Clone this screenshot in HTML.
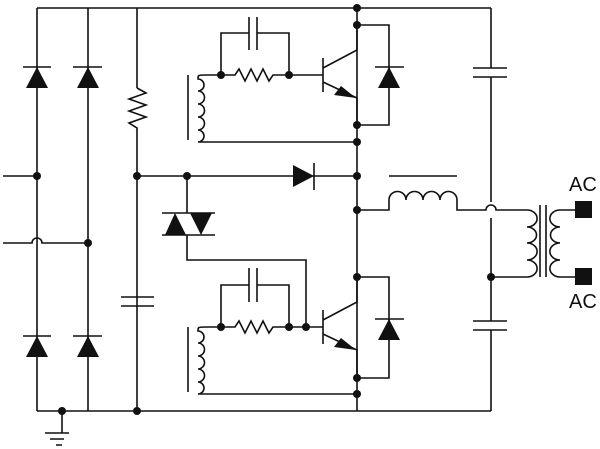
<!DOCTYPE html>
<html><head><meta charset="utf-8"><style>html,body{margin:0;padding:0;background:#fff}svg{display:block}</style></head>
<body>
<svg width="600" height="449" viewBox="0 0 600 449" xmlns="http://www.w3.org/2000/svg">
<g stroke="#111" stroke-width="1.6" fill="none">
<line x1="37" y1="8" x2="491" y2="8"/>
<line x1="37" y1="411" x2="491" y2="411"/>
<line x1="37" y1="8" x2="37" y2="411"/>
<line x1="88" y1="8" x2="88" y2="411"/>
<line x1="137" y1="8" x2="137" y2="88"/>
<polyline points="137,88 146,93 129,99 146,105 129,111 146,117 129,123 137,128 137,411"/>
<line x1="357" y1="8" x2="357" y2="411"/>
<line x1="491" y1="8" x2="491" y2="68"/>
<line x1="491" y1="77" x2="491" y2="202"/>
<path d="M491 218 V321 M491 330 V411"/>
<line x1="3" y1="176" x2="37" y2="176"/>
<path d="M3 243 H32 A5 5 0 0 1 42 243 H88"/>
<path d="M23 67 H51 M73 67 H102 M23 336 H51 M73 336 H102 M375 67 H404 M375 319 H404"/>
<path d="M62 411 V433 M45 433 H69 M50 439 H64 M56 445 H62"/>
<path d="M121 297 H154 M121 306 H154"/>
<path d="M473 68 H507 M473 77 H507 M473 321 H507 M473 330 H507"/>
<line x1="137" y1="176" x2="357" y2="176"/>
<line x1="314" y1="163" x2="314" y2="190"/>
<path d="M187 176 V213 M162 213 H215 M162 235 H215 M187 235 V260 H306 V327"/>
<line x1="188" y1="75" x2="188" y2="140"/>
<path d="M207 75 H235 L239 69 L245 81 L251 69 L257 81 L263 69 L269 81 L273 75 H323"/>
<path d="M207 75 C198 75 198 75 198 79 A4.3 4.3 0 0 1 198 91 A4.3 4.3 0 0 1 198 104 A4.3 4.3 0 0 1 198 117 A4.3 4.3 0 0 1 198 130 A4.3 4.3 0 0 1 198 142 H357"/>
<path d="M221 75 V33 H249 M257 33 H289 V75 M249 17 V50 M257 17 V50"/>
<path d="M323 58 V92 M323 68 L357 50 V25 M323 82 L357 98 V125"/>
<path d="M357 25 H389 V125 H357"/>
<line x1="188" y1="327" x2="188" y2="392"/>
<path d="M207 327 H235 L239 321 L245 333 L251 321 L257 333 L263 321 L269 333 L273 327 H323"/>
<path d="M207 327 C198 327 198 327 198 331 A4.3 4.3 0 0 1 198 343 A4.3 4.3 0 0 1 198 356 A4.3 4.3 0 0 1 198 369 A4.3 4.3 0 0 1 198 382 A4.3 4.3 0 0 1 198 394 H357"/>
<path d="M221 327 V285 H249 M257 285 H289 V327 M249 268 V302 M257 268 V302"/>
<path d="M323 310 V344 M323 320 L357 302 V277 M323 334 L357 350 V378"/>
<path d="M357 277 H389 V378 H357"/>
<path d="M357 210 H389 V200 A8.5 8.5 0 0 1 406 200 A8.5 8.5 0 0 1 423 200 A8.5 8.5 0 0 1 440 200 A8.5 8.5 0 0 1 457 200 V210 H486 A5 5 0 0 1 496 210 H527"/>
<line x1="389" y1="176" x2="457" y2="176"/>
<path d="M527 210 A5 4.2 0 0 1 527 227 A5 4.2 0 0 1 527 243 A5 4.2 0 0 1 527 260 A5 4.2 0 0 1 527 277 H491"/>
<path d="M540 205 V277 M546 205 V277"/>
<path d="M560 210 A5 4.2 0 0 0 560 227 A5 4.2 0 0 0 560 243 A5 4.2 0 0 0 560 260 A5 4.2 0 0 0 560 277 H577 M560 210 H577"/>
</g>
<g fill="#111">
<polygon points="37,67 26,88 48,88"/>
<polygon points="88,67 77,88 99,88"/>
<polygon points="37,336 26,357 48,357"/>
<polygon points="88,336 77,357 99,357"/>
<polygon points="389,67 378,88 400,88"/>
<polygon points="389,319 378,340 400,340"/>
<polygon points="314,176 293,165 293,187"/>
<polygon points="175,213 165,235 186,235"/>
<polygon points="201,235 190,213 212,213"/>
<polygon points="356,98 334,95 341,86"/>
<polygon points="356,350 334,347 341,338"/>
<rect x="575" y="201" width="17" height="17"/>
<rect x="575" y="268" width="17" height="17"/>
<circle cx="37" cy="176" r="4"/><circle cx="88" cy="243" r="4"/><circle cx="62" cy="411" r="4"/>
<circle cx="137" cy="176" r="4"/><circle cx="137" cy="411" r="4"/><circle cx="187" cy="176" r="4"/>
<circle cx="357" cy="8" r="4"/><circle cx="357" cy="25" r="4"/><circle cx="357" cy="125" r="4"/>
<circle cx="357" cy="142" r="4"/><circle cx="357" cy="176" r="4"/><circle cx="357" cy="210" r="4"/>
<circle cx="357" cy="277" r="4"/><circle cx="357" cy="378" r="4"/><circle cx="357" cy="394" r="4"/>
<circle cx="221" cy="75" r="4"/><circle cx="289" cy="75" r="4"/>
<circle cx="221" cy="327" r="4"/><circle cx="289" cy="327" r="4"/><circle cx="306" cy="327" r="4"/>
<circle cx="491" cy="277" r="4"/>
<text x="569" y="191" font-family="Liberation Sans, sans-serif" font-size="20">AC</text>
<text x="569" y="308" font-family="Liberation Sans, sans-serif" font-size="20">AC</text>
</g>
</svg>
</body></html>
